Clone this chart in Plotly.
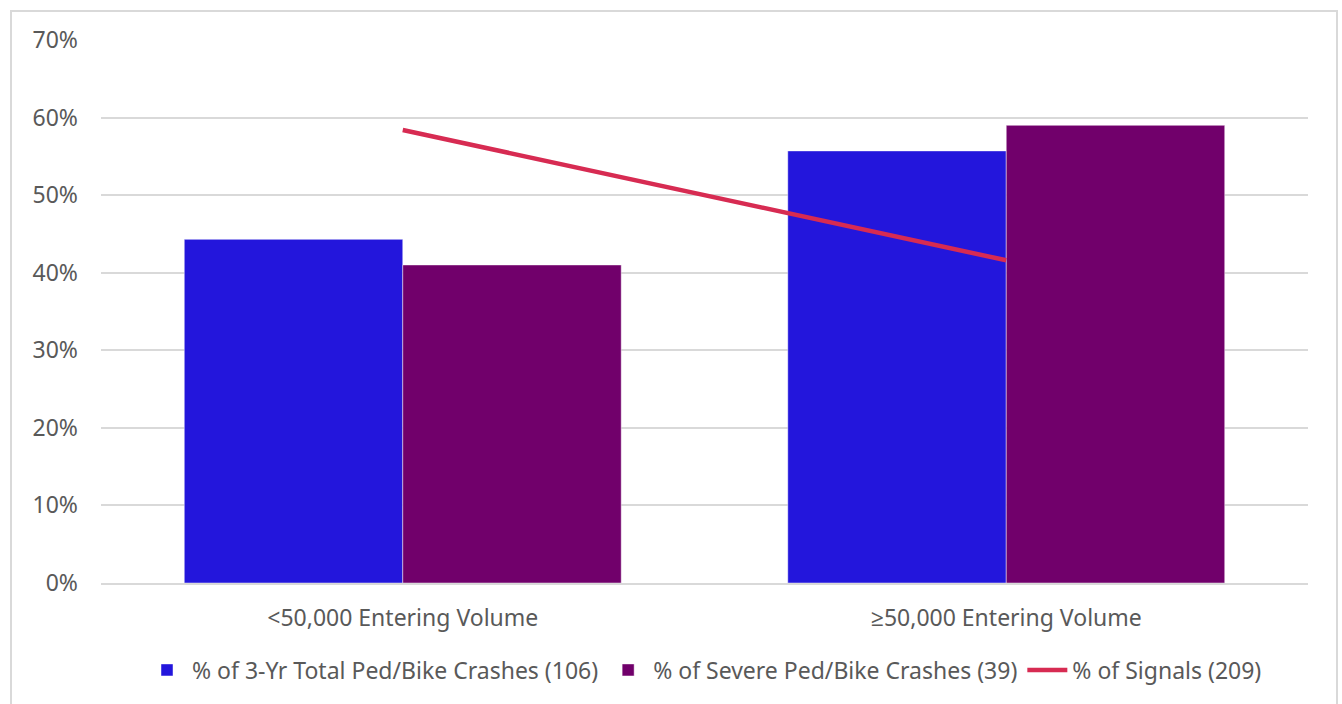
import plotly.graph_objects as go

# Entering-volume groups
categories = ["<50,000 Entering Volume", "≥50,000 Entering Volume"]

# Shares (%) of each total, per group
total_crashes = [44.3, 55.7]     # 47 and 59 of 106
severe_crashes = [41.0, 59.0]    # 16 and 23 of 39
signals = [58.4, 41.6]           # 122 and 87 of 209

series_names = [
    "% of 3-Yr Total Ped/Bike Crashes (106)",
    "% of Severe Ped/Bike Crashes (39)",
    "% of Signals (209)",
]

y_ticks = [0, 10, 20, 30, 40, 50, 60, 70]
y_tick_labels = [f"{v}%" for v in y_ticks]

BLUE = "#2316DC"
PURPLE = "#71006B"
RED = "#D72B52"
TEXT = "#595959"
GRID = "#D9D9D9"
FONT_SIZE = 23

W, H = 1342, 704
L, R, T, B = 101, 34, 40, 121
plot_w = W - L - R
plot_h = H - T - B

fig = go.Figure()
fig.add_trace(go.Bar(
    x=categories, y=total_crashes, name=series_names[0],
    marker=dict(color=BLUE, line=dict(color="rgba(255,255,255,0.45)", width=1)),
))
fig.add_trace(go.Bar(
    x=categories, y=severe_crashes, name=series_names[1],
    marker=dict(color=PURPLE, line=dict(color="rgba(255,255,255,0.45)", width=1)),
))
fig.add_trace(go.Scatter(
    x=categories, y=signals, name=series_names[2], mode="lines",
    line=dict(color=RED, width=4.5),
))

def px_to_paper_x(px):
    return (px - L) / plot_w

def px_to_paper_y(py):
    return (H - B - py) / plot_h

# Light frame around the whole chart (open at the bottom edge)
fig.add_shape(
    type="rect", xref="paper", yref="paper",
    x0=px_to_paper_x(11), x1=px_to_paper_x(1337),
    y0=px_to_paper_y(720), y1=px_to_paper_y(11),
    line=dict(color=GRID, width=2), fillcolor="rgba(0,0,0,0)", layer="below",
)

fig.update_layout(
    width=W, height=H,
    margin=dict(l=L, r=R, t=T, b=B, autoexpand=False),
    paper_bgcolor="white", plot_bgcolor="white",
    font=dict(family="Noto Sans, Open Sans, sans-serif", size=FONT_SIZE, color=TEXT),
    barmode="group", bargap=0.276, bargroupgap=0,
    showlegend=True,
    legend=dict(
        orientation="h", x=0.5, xanchor="center",
        y=px_to_paper_y(670), yanchor="middle",
        font=dict(size=FONT_SIZE, color=TEXT), traceorder="normal",
        itemwidth=40,
    ),
    xaxis=dict(
        showgrid=False, showline=True, linecolor=GRID, linewidth=1.5,
        ticks="", ticklabelstandoff=14, tickfont=dict(size=FONT_SIZE, color=TEXT),
    ),
    yaxis=dict(
        range=[0, 70], tickvals=y_ticks, ticktext=y_tick_labels,
        showgrid=True, gridcolor=GRID, gridwidth=1.5, zeroline=False,
        showline=False, ticks="", ticklabelstandoff=22,
        tickfont=dict(size=FONT_SIZE, color=TEXT),
    ),
)

fig.write_html("out.html")
